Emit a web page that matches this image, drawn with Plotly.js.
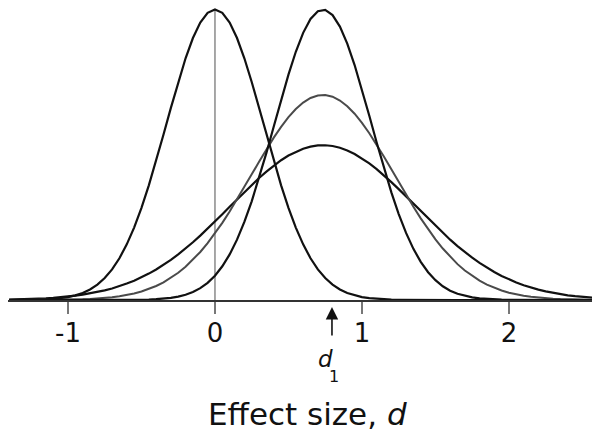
<!DOCTYPE html>
<html>
<head>
<meta charset="utf-8">
<script src="https://cdn.plot.ly/plotly-3.0.1.min.js"></script>
<style>html,body{margin:0;padding:0;background:#fff;}</style>
</head>
<body>
<div id="chart" style="width:592px;height:436px;"></div>
<script>
// Effect size grid (x axis)
const effectSize = [-1.4,-1.35,-1.3,-1.25,-1.2,-1.15,-1.1,-1.05,-1,-0.95,-0.9,-0.85,-0.8,-0.75,-0.7,-0.65,-0.6,-0.55,-0.5,-0.45,-0.4,-0.35,-0.3,-0.25,-0.2,-0.15,-0.1,-0.05,0,0.05,0.1,0.15,0.2,0.25,0.3,0.35,0.4,0.45,0.5,0.55,0.6,0.65,0.7,0.75,0.8,0.85,0.9,0.95,1,1.05,1.1,1.15,1.2,1.25,1.3,1.35,1.4,1.45,1.5,1.55,1.6,1.65,1.7,1.75,1.8,1.85,1.9,1.95,2,2.05,2.1,2.15,2.2,2.25,2.3,2.35,2.4,2.45,2.5,2.55,2.6];

// Curve centred on 0 (tall, narrow)
const curveNull = [0.0001,0.0002,0.0004,0.0008,0.0013,0.0023,0.0039,0.0063,0.0101,0.0159,0.0243,0.0363,0.0530,0.0756,0.1054,0.1437,0.1915,0.2493,0.3173,0.3947,0.4797,0.5698,0.6615,0.7505,0.8322,0.9019,0.9551,0.9886,1,
0.9886,0.9551,0.9019,0.8322,0.7505,0.6615,0.5698,0.4797,0.3947,0.3173,0.2493,0.1915,0.1437,0.1054,0.0756,0.0530,0.0363,0.0243,0.0159,0.0101,0.0063,0.0039,0.0023,0.0013,0.0008,0.0004,0.0002,0.0001,
0.0001,0,0,0,0,0,0,0,0,0,0,0,0,0,0,0,0,0,0,0,0,0,0,0];

// Curve centred near d1 (tall, narrow)
const curveTall = [0,0,0,0,0,0,0,0,0,0,0,0,0,0,
0.0001,0.0001,0.0003,0.0005,0.0009,0.0016,0.0027,0.0045,0.0073,0.0116,0.0181,0.0274,0.0407,0.0591,0.0837,0.1160,0.1571,0.2078,0.2687,0.3396,0.4195,0.5063,0.5974,0.6887,0.7760,0.8546,0.9197,0.9674,0.9944,0.9990,0.9808,0.9411,0.8825,0.8088,0.7244,0.6341,0.5424,0.4535,0.3705,0.2959,0.2309,0.1761,0.1313,0.0956,0.0681,0.0474,0.0322,0.0214,0.0139,0.0088,0.0055,0.0033,0.0020,0.0011,0.0006,0.0004,0.0002,0.0001,0.0001,
0,0,0,0,0,0,0,0];

// Curve centred near d1 (medium, grey)
const curveMid = [0.0001,0.0001,0.0001,0.0002,0.0003,0.0004,0.0006,0.0009,0.0013,0.0019,0.0027,0.0038,0.0052,0.0072,0.0097,0.0130,0.0173,0.0227,0.0295,0.0379,0.0483,0.0608,0.0759,0.0936,0.1144,0.1382,0.1653,0.1956,0.2292,
0.2657,0.3049,0.3462,0.3890,0.4326,0.4761,0.5186,0.5589,0.5962,0.6293,0.6574,0.6797,0.6955,0.7042,0.7057,0.6998,0.6868,0.6671,0.6412,0.6100,
0.5742,0.5349,0.4932,0.4500,0.4064,0.3632,0.3212,0.2811,0.2435,0.2087,0.1771,0.1486,0.1235,0.1015,0.0826,0.0665,0.0530,0.0418,0.0326,0.0252,0.0193,0.0146,0.0109,0.0081,0.0059,0.0043,0.0031,0.0022,0.0015,0.0011,0.0007,0.0005];

// Curve centred near d1 (low, wide)
const curveWide = [0.0017,0.0022,0.0029,0.0037,0.0048,0.0061,0.0077,0.0096,0.0120,0.0149,0.0184,0.0225,0.0274,0.0331,0.0398,0.0476,0.0565,0.0666,0.0780,0.0909,0.1052,0.1210,0.1383,0.1570,0.1772,0.1987,0.2215,0.2452,0.2699,
0.2951,0.3207,0.3463,0.3717,0.3963,0.4200,0.4422,0.4628,0.4812,0.4972,0.5105,0.5209,0.5282,0.5322,0.5328,0.5302,0.5242,0.5150,0.5028,0.4879,
0.4704,0.4507,0.4291,0.4059,0.3816,0.3565,0.3310,0.3054,0.2799,0.2550,0.2308,0.2077,0.1856,0.1649,0.1456,0.1277,0.1113,0.0964,0.0830,0.0710,0.0603,0.0510,0.0428,0.0357,0.0296,0.0244,0.0199,0.0162,0.0131,0.0105,0.0084,0.0067];

const tickValues = [-1, 0, 1, 2];
const tickLabels = ['-1', '0', '1', '2'];
const zeroLineX = [0, 0];
const zeroLineY = [0, 1];
const d1Value = 0.796;

const curveStyle = (color, w) => ({mode: 'lines', line: {color: color, width: w, shape: 'linear'}, hoverinfo: 'skip', showlegend: false});

const traces = [
  Object.assign({x: zeroLineX, y: zeroLineY}, curveStyle('#8a8a8a', 1.5)),
  Object.assign({x: effectSize, y: curveWide}, curveStyle('#111111', 2.2)),
  Object.assign({x: effectSize, y: curveMid}, curveStyle('#4a4a4a', 2.0)),
  Object.assign({x: effectSize, y: curveNull}, curveStyle('#111111', 2.2)),
  Object.assign({x: effectSize, y: curveTall}, curveStyle('#111111', 2.2))
];

const layout = {
  width: 592, height: 436,
  margin: {l: 8, r: 0, t: 4, b: 136, pad: 0},
  paper_bgcolor: '#ffffff', plot_bgcolor: '#ffffff',
  showlegend: false,
  font: {family: 'DejaVu Sans', color: '#111111'},
  xaxis: {
    range: [-1.408, 2.565],
    showgrid: false, zeroline: false,
    showline: true, linecolor: '#333333', linewidth: 2,
    ticks: 'outside', ticklen: 12, tickwidth: 1.5, tickcolor: '#777777',
    tickmode: 'array', tickvals: tickValues, ticktext: tickLabels,
    tickfont: {family: 'DejaVu Sans', size: 26, color: '#111111'},
    ticklabelstandoff: -3,
    fixedrange: true
  },
  yaxis: {range: [0, 1.019], visible: false, fixedrange: true},
  annotations: [
    {x: d1Value, y: -0.0236, xref: 'x', yref: 'paper', text: '', showarrow: true,
     ax: 0, ay: 30, arrowhead: 2, arrowsize: 1.55, arrowwidth: 1.6, arrowcolor: '#111111'},
    {x: 0.755, y: -0.198, xref: 'x', yref: 'paper', text: '<i>d</i>', showarrow: false,
     xanchor: 'center', yanchor: 'middle', font: {family: 'DejaVu Sans', size: 23, color: '#111111'}},
    {x: 0.81, y: -0.26, xref: 'x', yref: 'paper', text: '1', showarrow: false,
     xanchor: 'center', yanchor: 'middle', font: {family: 'DejaVu Sans', size: 16, color: '#111111'}},
    {x: 0.629, y: -0.385, xref: 'x', yref: 'paper', text: 'Effect size, <i>d</i>', showarrow: false,
     xanchor: 'center', yanchor: 'middle', font: {family: 'DejaVu Sans', size: 31, color: '#111111'}}
  ]
};

Plotly.newPlot('chart', traces, layout, {displayModeBar: false, staticPlot: true});
</script>
</body>
</html>
